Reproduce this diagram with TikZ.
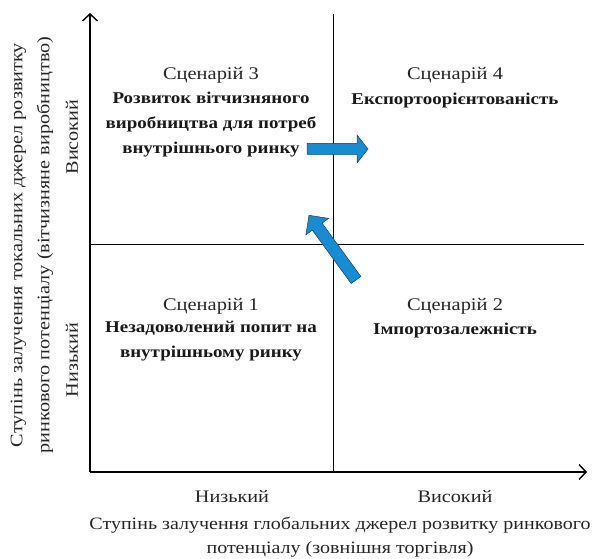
\documentclass[tikz,border=0pt]{standalone}
\usepackage{fontspec}
\setmainfont{Liberation Serif}[FakeStretch=1.15]
\usetikzlibrary{arrows.meta}
\definecolor{arrowblue}{RGB}{22,140,210}
\definecolor{arrowedge}{RGB}{25,60,100}
\tikzset{
  axis/.style={line width=1.1pt,-{Straight Barb[length=7pt,width=15pt,line width=1.4pt]}},
  divider/.style={line width=0.9pt},
  scen/.style={font=\fontsize{17.8}{25}\selectfont,align=center,text=black!85},
  title/.style={font=\fontsize{16.5}{25}\selectfont\bfseries,align=center,text=black!90},
  lbl/.style={font=\fontsize{17.6}{27}\selectfont,align=center,text=black!85},
  bigarrow/.style={fill=arrowblue,draw=arrowedge,line width=0.5pt,line join=miter},
}
\begin{document}
\begin{tikzpicture}[x=1pt,y=-1pt]
\useasboundingbox (0,0) rectangle (597,559);
\coordinate (O) at (90,472);
\coordinate (Ytop) at (90,13);
\coordinate (Xend) at (587,472);
\coordinate (Mtop) at (333,14);
\coordinate (Mbot) at (333,472);
\coordinate (Hl) at (90,244);
\coordinate (Hr) at (584,244);
\draw[divider] (Mtop) -- (Mbot);
\draw[divider] (Hl) -- (Hr);
\draw[axis] (O) -- (Ytop);
\draw[axis] (O) -- (Xend);

\node[scen] (s3) at (211,75) {Сценарій 3};
\node[title,anchor=north] (t3) at (211,89) {Розвиток вітчизняного\\виробництва для потреб\\внутрішнього ринку};
\node[scen] (s4) at (455,75) {Сценарій 4};
\node[title] (t4) at (455,101) {Експортоорієнтованість};
\node[scen] (s1) at (211,306) {Сценарій 1};
\node[title,anchor=north] (t1) at (211,318) {Незадоволений попит на\\внутрішньому ринку};
\node[scen] (s2) at (455,306) {Сценарій 2};
\node[title] (t2) at (455,331) {Імпортозалежність};

\node[lbl,rotate=90] (yhi) at (72,137) {Високий};
\node[lbl,rotate=90] (ylo) at (72,360) {Низький};
\node[lbl] (xlo) at (232,497) {Низький};
\node[lbl] (xhi) at (455,497) {Високий};
\node[lbl,rotate=90] (ylab) at (32,245) {Ступінь залучення токальних джерел розвитку\\ринкового потенціалу (вітчизняне виробництво)};
\node[lbl,font=\fontsize{17.4}{24}\selectfont] (xlab) at (340,537) {Ступінь залучення глобальних джерел розвитку ринкового\\потенціалу (зовнішня торгівля)};

\begin{scope}[shift={(307,149)}]
\draw[bigarrow] (0,-5.5) -- (50,-5.5) -- (50,-14) -- (61,0) -- (50,14) -- (50,5.5) -- (0,5.5) -- cycle;
\end{scope}
\begin{scope}[shift={(356,280)},rotate=126]
\draw[bigarrow] (0,-6) -- (66,-6) -- (66,-14) -- (80,0) -- (66,14) -- (66,6) -- (0,6) -- cycle;
\end{scope}
\end{tikzpicture}
\end{document}
